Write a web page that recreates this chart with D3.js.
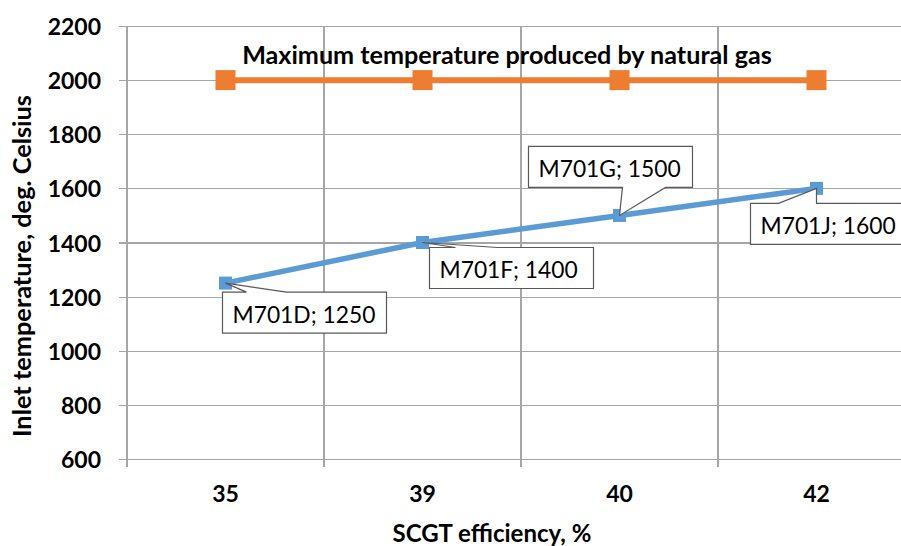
<!DOCTYPE html>
<html>
<head>
<meta charset="utf-8">
<script src="https://cdn.jsdelivr.net/npm/d3@7"></script>
<style>
  html, body { margin: 0; padding: 0; background: #fff; overflow: hidden; }
  svg { display: block; }
  text { font-family: Lato, "Open Sans", sans-serif; fill: #000; }
</style>
</head>
<body>
<svg id="chart" width="901" height="546"></svg>
<script>
// ---- data ----
const categories = ["35", "39", "40", "42"];
const turbineNames = ["M701D", "M701F", "M701G", "M701J"];
const inletTemps = [1250, 1400, 1500, 1600];
const gasMaxTemps = [2000, 2000, 2000, 2000];
const yTicks = [600, 800, 1000, 1200, 1400, 1600, 1800, 2000, 2200];
const gasSeriesName = "Maximum temperature produced by natural gas";
const xTitle = "SCGT efficiency, %";
const yTitle = "Inlet temperature, deg. Celsius";

// ---- layout (not data) ----
const W = 901, H = 546;
const plot = { left: 127, right: 915, top: 26, bottom: 459 };
// callout box offsets relative to the data point
const calloutLayout = [
  { dx: -3,  dy: 9,   t0: 24, t1: 64,  side: "top" },
  { dx: 7,   dy: 5,   t0: 26, t1: 68,  side: "top" },
  { dx: -91, dy: -69, t0: 94, t1: 137, side: "bottom" },
  { dx: -66, dy: 15,  t0: 28, t1: 66,  side: "top" }
];
const boxW = 164, boxH = 41;

const svg = d3.select("#chart");

const x = d3.scaleBand().domain(categories).range([plot.left, plot.right]);
const y = d3.scaleLinear().domain([600, 2200]).range([plot.bottom, plot.top]);
const cx = c => x(c) + x.bandwidth() / 2;

const gridColor = "#a6a6a6";

// horizontal gridlines + left ticks
const yAxis = d3.axisLeft(y).tickValues(yTicks).tickSize(-(plot.right - plot.left)).tickSizeOuter(0).tickPadding(0).tickFormat("");
const gy = svg.append("g").attr("transform", `translate(${plot.left},0)`).call(yAxis);
gy.select(".domain").remove();
gy.selectAll(".tick line").attr("stroke", gridColor).attr("x1", -8).attr("stroke-width", 1.2).attr("shape-rendering", "crispEdges");

// vertical gridlines at category boundaries
const bounds = categories.map(c => x(c)).concat([plot.right]);
svg.append("g").selectAll("line").data(bounds).join("line")
  .attr("x1", d => d).attr("x2", d => d)
  .attr("y1", plot.top).attr("y2", plot.bottom + 8)
  .attr("stroke", gridColor).attr("stroke-width", 1.2).attr("shape-rendering", "crispEdges");

// y tick labels
svg.append("g").selectAll("text").data(yTicks).join("text")
  .attr("x", 101).attr("y", d => y(d))
  .attr("text-anchor", "end").attr("dominant-baseline", "central")
  .style("font-size", "23px").style("font-weight", "bold")
  .text(d => d);

// x tick labels
svg.append("g").selectAll("text").data(categories).join("text")
  .attr("x", d => cx(d)).attr("y", 502)
  .attr("text-anchor", "middle")
  .style("font-size", "23px").style("font-weight", "bold")
  .text(d => d);

function fitWidth(sel, target) {
  const node = sel.node();
  const fs = parseFloat(sel.style("font-size"));
  const w = node.getComputedTextLength();
  const nfs = fs * target / w;
  sel.style("font-size", nfs + "px");
  return nfs;
}

// axis titles
const xt = svg.append("text").attr("x", 492).attr("y", 542).attr("text-anchor", "middle")
  .style("font-size", "22px").style("font-weight", "bold").text(xTitle);
fitWidth(xt, 199);
const yt = svg.append("text").attr("transform", "translate(31,266) rotate(-90)").attr("text-anchor", "middle")
  .style("font-size", "22px").style("font-weight", "bold").text(yTitle);
fitWidth(yt, 342);

// gas max series
const line = d3.line().x((d, i) => cx(categories[i])).y(d => y(d));
svg.append("path").datum(gasMaxTemps).attr("d", line)
  .attr("fill", "none").attr("stroke", "#ED7D31").attr("stroke-width", 6);
svg.append("g").selectAll("rect").data(gasMaxTemps).join("rect")
  .attr("x", (d, i) => cx(categories[i]) - 10).attr("y", d => y(d) - 10)
  .attr("width", 20).attr("height", 20).attr("fill", "#ED7D31");

// series label for gas line
const gt = svg.append("text").attr("x", 507).attr("y", 64).attr("text-anchor", "middle")
  .style("font-size", "24px").style("font-weight", "bold").text(gasSeriesName);
fitWidth(gt, 530);

// inlet temperature series
svg.append("path").datum(inletTemps).attr("d", line)
  .attr("fill", "none").attr("stroke", "#5B9BD5").attr("stroke-width", 5.5);
svg.append("g").selectAll("rect").data(inletTemps).join("rect")
  .attr("x", (d, i) => cx(categories[i]) - 6.5).attr("y", d => y(d) - 6.5)
  .attr("width", 13).attr("height", 13).attr("fill", "#5B9BD5");

// callouts
const cg = svg.append("g");
let labelFs = null;
inletTemps.forEach((v, i) => {
  const px = cx(categories[i]), py = y(v);
  const L = calloutLayout[i];
  const bx = px + L.dx, by = py + L.dy;
  let p;
  if (L.side === "top") {
    p = `M${bx},${by} L${bx + L.t0},${by} L${px},${py} L${bx + L.t1},${by} L${bx + boxW},${by} L${bx + boxW},${by + boxH} L${bx},${by + boxH} Z`;
  } else {
    p = `M${bx},${by} L${bx + boxW},${by} L${bx + boxW},${by + boxH} L${bx + L.t1},${by + boxH} L${px},${py} L${bx + L.t0},${by + boxH} L${bx},${by + boxH} Z`;
  }
  cg.append("path").attr("d", p).attr("fill", "#fff").attr("stroke", "#595959").attr("stroke-width", 1.2);
  const t = cg.append("text").attr("x", bx + 10).attr("y", by + boxH / 2 + 1)
    .attr("text-anchor", "start").attr("dominant-baseline", "central")
    .style("font-size", (labelFs || 22) + "px").text(`${turbineNames[i]}; ${v}`);
  if (labelFs === null) labelFs = fitWidth(t, 143);
});
</script>
</body>
</html>
